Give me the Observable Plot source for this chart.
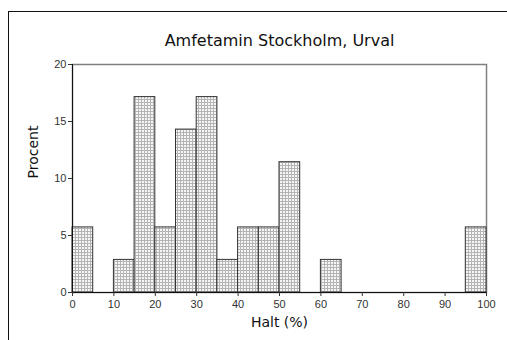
<!DOCTYPE html>
<html>
<head>
<meta charset="utf-8">
<script src="https://cdn.jsdelivr.net/npm/d3@7"></script>
<script src="https://cdn.jsdelivr.net/npm/@observablehq/plot@0.6"></script>
<style>
  html, body { margin: 0; padding: 0; background: #fff; }
  #wrap { position: relative; width: 507px; height: 340px; overflow: hidden; }
  #border { position: absolute; left: 8px; top: 11px; width: 600px; height: 400px; border-left: 1.5px solid #111; border-top: 1.5px solid #111; }
  #chart { position: absolute; left: 0; top: 0; }
</style>
</head>
<body>
<div id="wrap"><div id="border"></div><div id="chart"></div></div>
<script>
// Histogram of amphetamine purity (Halt, %) in Stockholm samples, 5-point bins
const binLower = [0, 10, 15, 20, 25, 30, 35, 40, 45, 50, 60, 95];
const binUpper = [5, 15, 20, 25, 30, 35, 40, 45, 50, 55, 65, 100];
const percent  = [5.71, 2.86, 17.14, 5.71, 14.29, 17.14, 2.86, 5.71, 5.71, 11.43, 2.86, 5.71];
const xTicks = [0, 10, 20, 30, 40, 50, 60, 70, 80, 90, 100];
const yTicks = [0, 5, 10, 15, 20];
const title = "Amfetamin Stockholm, Urval";
const xLabel = "Halt (%)";
const yLabel = "Procent";

const bins = binLower.map((lo, i) => ({lo, hi: binUpper[i], pct: percent[i]}));
const labelFont = "'DejaVu Sans', Verdana, sans-serif";

const chart = Plot.plot({
  width: 507,
  height: 340,
  marginTop: 64,
  marginLeft: 72,
  marginRight: 21,
  marginBottom: 48,
  style: {fontFamily: "'Liberation Sans', Arial, sans-serif", fontSize: "11px", color: "#333", background: "transparent"},
  x: {domain: [0, 100], ticks: xTicks},
  y: {domain: [0, 20], ticks: yTicks},
  marks: [
    Plot.frame({stroke: "#808080", strokeWidth: 1.5}),
    Plot.rectY(bins, {x1: "lo", x2: "hi", y: "pct", fill: "url(#dotfill)", stroke: "#333", strokeWidth: 1, inset: 0}),
    Plot.ruleX([0], {stroke: "#111"}),
    Plot.ruleY([0], {stroke: "#111"}),
    Plot.axisX({ticks: xTicks, tickSize: 4, tickPadding: 4, label: null}),
    Plot.axisY({ticks: yTicks, tickSize: 4, tickPadding: 2, label: null}),
    Plot.text([title], {frameAnchor: "top", dy: -30, fontSize: 16, fill: "#111", fontFamily: labelFont}),
    Plot.text([xLabel], {frameAnchor: "bottom", dy: 34, fontSize: 14, fill: "#111", fontFamily: labelFont}),
    Plot.text([yLabel], {frameAnchor: "left", dx: -39, rotate: -90, fontSize: 14, fill: "#111", fontFamily: labelFont})
  ]
});

// Stippled fill pattern for the bars
const ns = "http://www.w3.org/2000/svg";
const defs = document.createElementNS(ns, "defs");
defs.innerHTML = `
  <pattern id="dotfill" width="3" height="3" patternUnits="userSpaceOnUse">
    <rect width="3" height="3" fill="#f6f6f6"/>
    <rect x="0" y="0" width="3" height="1" fill="#b4b4b4"/>
    <rect x="0" y="0" width="1" height="3" fill="#b4b4b4"/>
  </pattern>`;
chart.insertBefore(defs, chart.firstChild);

document.getElementById("chart").appendChild(chart);
</script>
</body>
</html>
